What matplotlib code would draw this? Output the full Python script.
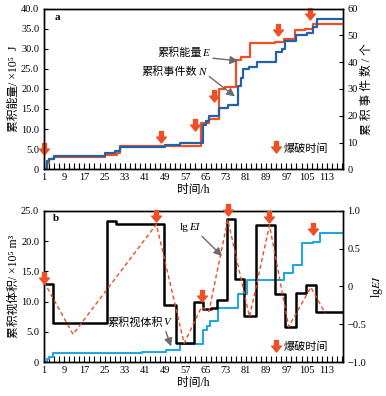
import matplotlib
matplotlib.use("Agg")
import matplotlib.pyplot as plt
import matplotlib.transforms as mtransforms
from matplotlib.path import Path

plt.rcParams['font.family'] = ['Liberation Serif', 'Noto Sans CJK SC', 'DejaVu Serif']
plt.rcParams['mathtext.fontset'] = 'stix'
plt.rcParams['font.size'] = 7.5

# ---------------- data: panel a ----------------
e_x = [1, 2, 3, 5, 25, 30, 31, 63, 66.5, 70.5, 72.5, 77, 79, 82.5, 92.5, 96, 100.5, 104.5, 107.5, 119.5]
e_val = [0, 1.5, 2.5, 3.0, 3.5, 4.0, 5.85, 11.4, 12.5, 19.9, 20.4, 27.2, 28.0, 31.3, 31.7, 32.5, 34.6, 35.0, 36.1, 36.1]
n_x = [1, 2, 3, 5, 25, 29, 31, 49, 55, 64, 65, 66.5, 70.5, 74, 78, 79, 80, 82, 85.2, 92.7, 95.2, 96.6, 101, 105, 107.5, 109, 119.5]
n_val = [0, 3, 4, 5, 6, 6.8, 8.2, 9.2, 10, 16.5, 18, 20, 22.7, 24, 31, 34, 37.5, 38.2, 40, 43.8, 45, 48, 50, 51, 53, 56, 56]
blast_a_x = [1, 47.4, 60.8, 68.2, 93.5, 106.5]
blast_a_y = [4.8, 7.8, 10.8, 18.0, 34.4, 38.3]

# ---------------- data: panel b ----------------
ei_step_x = [1, 4.7, 25.8, 29.4, 48.5, 53.3, 60.5, 64, 67, 69.5, 73.3, 76.8, 80.2, 85.0, 92.5, 96.5, 101, 104.8, 108.8, 119.5]
ei_step_y = [0.03, -0.48, 0.87, 0.82, -0.25, -0.75, -0.21, -0.30, -0.28, -0.18, 0.89, 0.10, -0.39, 0.81, -0.10, -0.53, -0.09, 0.02, -0.34, -0.34]
ei_blast_x = [1, 12.5, 45.5, 56.5, 63.4, 66.3, 73.8, 82.4, 90.3, 97.9, 106.7, 112.3]
ei_blast_y = [0.06, -0.63, 0.82, -0.75, -0.27, -0.33, 0.88, -0.40, 0.81, -0.53, -0.01, -0.35]
v_x = [1, 2, 3, 4.7, 25, 40, 49.5, 55, 64.1, 65.5, 66.8, 70, 78, 81.5, 96, 99.5, 103, 107.5, 110.5, 119.5]
v_val = [0, 0.5, 0.8, 1.5, 1.6, 1.7, 2.0, 3.0, 5.4, 6.0, 6.8, 9.0, 11.2, 13.6, 14.7, 16.0, 19.6, 19.9, 21.4, 21.4]
blast_b_x = [1, 45.5, 63.7, 74.0, 90.3, 107.5]
blast_b_y = [0.10, 0.92, -0.14, 0.99, 0.91, 0.74]

xticks = list(range(1, 114, 8))

RED = '#f04e23'
BLUE = '#2261a9'
CYAN = '#22a6de'
GRAY = '#6b6b6b'
LAB = 8.5
ANN = 8

arrow_path = Path([(-0.28, 1.0), (0.28, 1.0), (0.28, 0.2), (0.7, 0.2), (0, -0.65),
                   (-0.7, 0.2), (-0.28, 0.2), (-0.28, 1.0)],
                  [Path.MOVETO] + [Path.LINETO] * 6 + [Path.CLOSEPOLY])

fig = plt.figure(figsize=(3.86, 3.96), dpi=100)
renderer = fig.canvas.get_renderer()
W, H = 386.0, 396.0
L, R = 44 / W, 342.7 / W
ax1 = fig.add_axes([L, 1 - 169.3 / H, R - L, (169.3 - 8.5) / H])
ax3 = fig.add_axes([L, 1 - 362.3 / H, R - L, (362.3 - 210.7) / H])


def rich_text(ax, x, y, parts, size=ANN, gap=0.0):
    t = ax.transData
    for s, style in parts:
        txt = ax.text(x, y, s, transform=t, fontsize=size, fontstyle=style,
                      ha='left', va='center')
        ex = txt.get_window_extent(renderer)
        w = ex.width * 72.0 / fig.dpi
        t = mtransforms.offset_copy(txt.get_transform(), fig=fig, x=w + gap, units='points')


def style_x(ax):
    ax.set_xlim(1, 119.3)
    ax.set_xticks(xticks)
    ax.set_xticks(range(1, 120, 2), minor=True)
    ax.tick_params(axis='x', which='both', direction='in', length=4, width=0.8, top=False, pad=3)
    ax.set_xlabel('时间/h', labelpad=1, fontsize=LAB)


# ---------- panel a ----------
ax2 = ax1.twinx()
ax1.step(e_x, e_val, where='post', color=RED, lw=1.6, zorder=3)
ax2.step(n_x, n_val, where='post', color=BLUE, lw=1.6, zorder=2)
ax1.set_ylim(0, 40)
ax1.set_yticks([0, 5, 10, 15, 20, 25, 30, 35, 40])
ax1.set_yticklabels(['0', '5.0', '10.0', '15.0', '20.0', '25.0', '30.0', '35.0', '40.0'])
ax2.set_ylim(0, 60)
ax2.set_yticks([0, 10, 20, 30, 40, 50, 60])
ax1.tick_params(axis='y', direction='in', length=3, width=0.8)
ax2.tick_params(axis='y', direction='in', length=3, width=0.8)
style_x(ax1)
ax1.set_ylabel('累积能量/ ×10⁵  J', labelpad=1, fontsize=LAB)
ax2.set_ylabel('累 积 事 件 数 / 个', labelpad=2, fontsize=LAB)
ax1.plot(blast_a_x, blast_a_y, linestyle='none', marker=arrow_path, markersize=10,
         color=RED, clip_on=False, zorder=5)
ax1.text(0.035, 0.93, 'a', transform=ax1.transAxes, fontweight='bold', fontsize=8)
ax1.annotate('', xy=(79.0, 26.9), xytext=(66.8, 27.7),
             arrowprops=dict(arrowstyle='-|>', color=GRAY, lw=1.0, mutation_scale=12))
rich_text(ax1, 45.8, 28.9, [('累积能量', 'normal'), ('E', 'italic')], gap=0.6)
ax1.annotate('', xy=(77.5, 17.7), xytext=(65.6, 23.5),
             arrowprops=dict(arrowstyle='-|>', color=GRAY, lw=1.0, mutation_scale=12))
rich_text(ax1, 39.7, 24.2, [('累积事件数', 'normal'), ('N', 'italic')], gap=0.6)
ax1.plot([93.0], [5.2], linestyle='none', marker=arrow_path, markersize=10, color=RED)
ax1.text(96.0, 5.2, '爆破时间', ha='left', va='center', fontsize=ANN)

# ---------- panel b ----------
ax4 = ax3.twinx()
ax3.step(v_x, v_val, where='post', color=CYAN, lw=1.5, zorder=2)
ax4.step(ei_step_x, ei_step_y, where='post', color='black', lw=1.8, zorder=3)
ax4.plot(ei_blast_x, ei_blast_y, color=RED, lw=1.0, linestyle=(0, (3, 2)), zorder=4)
ax4.plot(blast_b_x, blast_b_y, linestyle='none', marker=arrow_path, markersize=10,
         color=RED, clip_on=False, zorder=5)
ax3.set_ylim(0, 25)
ax3.set_yticks([0, 5, 10, 15, 20, 25])
ax3.set_yticklabels(['0', '5.0', '10.0', '15.0', '20.0', '25.0'])
ax4.set_ylim(-1, 1)
ax4.set_yticks([-1, -0.5, 0, 0.5, 1])
ax4.set_yticklabels(['−1.0', '−0.5', '0', '0.5', '1.0'])
ax3.tick_params(axis='y', direction='in', length=3, width=0.8)
ax4.tick_params(axis='y', direction='in', length=3, width=0.8)
style_x(ax3)
ax3.set_ylabel('累积视体积/ ×10⁵ m³', labelpad=1, fontsize=LAB)
ax4.set_ylabel('lg$EI$', labelpad=2, fontsize=LAB)
ax3.text(0.03, 0.93, 'b', transform=ax3.transAxes, fontweight='bold', fontsize=8)
ax3.annotate('', xy=(51.7, 2.2), xytext=(48.9, 5.5),
             arrowprops=dict(arrowstyle='-|>', color=GRAY, lw=1.0, mutation_scale=12))
rich_text(ax3, 26.0, 6.6, [('累积视体积', 'normal'), ('V', 'italic')], gap=0.6)
ax3.annotate('', xy=(72.3, 17.2), xytext=(62.8, 21.1),
             arrowprops=dict(arrowstyle='-|>', color=GRAY, lw=1.0, mutation_scale=12))
rich_text(ax3, 54.9, 22.3, [('lg', 'normal'), ('EI', 'italic')], gap=-0.2)
ax3.plot([93.0], [2.5], linestyle='none', marker=arrow_path, markersize=10, color=RED)
ax3.text(96.0, 2.5, '爆破时间', ha='left', va='center', fontsize=ANN)

for ax in (ax1, ax2, ax3, ax4):
    for s in ax.spines.values():
        s.set_linewidth(1.0)

fig.savefig('out.png', dpi=100)
